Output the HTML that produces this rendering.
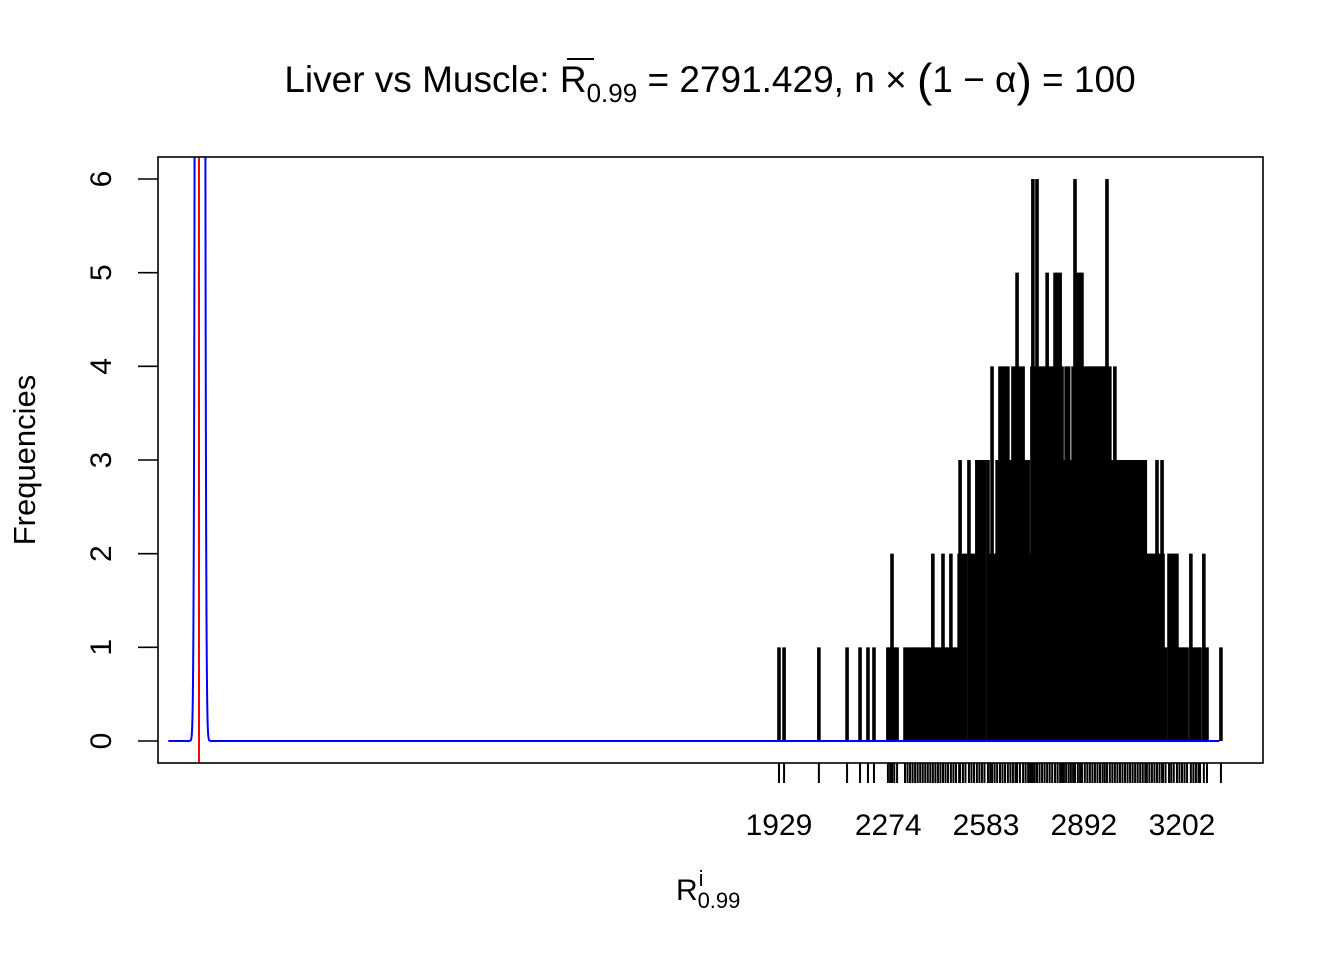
<!DOCTYPE html>
<html><head><meta charset="utf-8"><style>
html,body{margin:0;padding:0;background:#fff;}
svg{display:block;font-family:"Liberation Sans",Arial,sans-serif;}
</style></head><body>
<svg id="chart" width="1344" height="960" viewBox="0 0 1344 960" xmlns="http://www.w3.org/2000/svg">
<defs><clipPath id="plotclip"><rect x="158" y="157" width="1105" height="606"/></clipPath></defs>
<rect x="0" y="0" width="1344" height="960" fill="#fff"/>
<text x="710" y="92" text-anchor="middle" font-size="37" fill="#000">Liver vs Muscle: <tspan>R</tspan><tspan font-size="26" dy="10">0.99</tspan><tspan dy="-10"> = 2791.429, n × </tspan><tspan font-size="46" dy="4">(</tspan><tspan dy="-4">1 − α</tspan><tspan font-size="46" dy="4">)</tspan><tspan dy="-4"> = 100</tspan></text>
<line x1="567" y1="59" x2="594" y2="59" stroke="#000" stroke-width="2"/>
<g id="marks" clip-path="url(#plotclip)"></g>
<g id="rug"></g>
<g id="yaxis"></g>
<g id="xlabels"></g>
<rect x="158" y="157" width="1105" height="606" fill="none" stroke="#000" stroke-width="1.6"/>
<text transform="translate(35,460) rotate(-90)" text-anchor="middle" font-size="31" fill="#000">Frequencies</text>
<text x="676" y="900" font-size="30" fill="#000">R<tspan font-size="22" dx="1" dy="-14">i</tspan><tspan font-size="22" dx="-6" dy="22">0.99</tspan></text>
</svg>
<script>
const values = [1929,1945,2055,2144,2185,2210,2229,2273,2280,2286,2293,2302,
2327,2335,2343,2351,2359,2367,2375,2383,2391,2399,2407,2415,2423,2431,2439,2447,2455,2463,2472,2480,2488,
2498,2501,2510,2518,2529,2537,2545,2554,2562,2570,2578,2589,2596,2602,2610,2618,2627,2635,2643,2652,2660,2668,2676,2681,2690,2700,2708,2716,2722,
2728,2731,2737,2744,2752,2760,2768,2776,2784,2792,2801,2809,2817,2823,2829,2836,2844,2851,2858,2864,2873,2880,2886,2895,2903,2911,2919,2927,2935,2943,2951,2958,2965,2974,2982,2990,2998,
3006,3014,3022,3030,3038,3046,3054,3062,3070,3078,3086,3091,3099,3107,3115,3123,3131,3139,3142,3150,3161,3168,3176,3186,3194,3202,3210,3218,3230,3238,3246,3254,3259,3271,3281,3325];
const counts = [1,1,1,1,1,1,1,1,1,2,1,1,
1,1,1,1,1,1,1,1,1,1,1,2,1,1,1,2,1,1,2,1,1,
2,3,2,2,3,2,2,3,3,3,3,3,2,4,2,3,4,4,4,4,3,4,4,5,4,4,3,3,2,
4,6,4,6,4,4,4,5,4,4,5,5,5,4,3,4,4,3,4,6,5,5,5,4,4,4,4,4,4,4,4,4,6,4,3,4,3,
3,3,3,3,3,3,3,3,3,3,3,2,2,2,2,3,2,3,2,1,2,2,2,2,1,1,1,1,2,1,1,1,1,2,1,1];
const yTicks = [0,1,2,3,4,5,6];
const xLabels = [1929,2274,2583,2892,3202];
const refValue = 100;

const NS = "http://www.w3.org/2000/svg";
function xS(v){ return 779 + (v - 1929) * (1182 - 779) / (3202 - 1929); }
function yS(c){ return 741 - c * (741 - 179) / 6; }
function mk(tag, attrs, parent){ const e=document.createElementNS(NS,tag); for(const k in attrs) e.setAttribute(k,attrs[k]); parent.appendChild(e); return e; }

const marks=document.getElementById('marks'), rug=document.getElementById('rug'), yax=document.getElementById('yaxis'), xl=document.getElementById('xlabels');

values.forEach((v,i)=>{
  const l=mk('line',{x1:xS(v),x2:xS(v),y1:yS(0),y2:yS(counts[i]),stroke:'#000','stroke-width':3.6},marks);
  
  
  const r=mk('line',{x1:xS(v),x2:xS(v),y1:763,y2:783,stroke:'#000','stroke-width':2},rug);
  
  
});

let d='';
const vmax = values[values.length-1];
for(let v=0; v<=vmax; v+= (Math.abs(v-refValue)<80?0.5:10)){
  const y = 200*Math.exp(-0.5*Math.pow((v-refValue)/6.5,2));
  d += (d?'L':'M') + xS(v).toFixed(2) + ',' + yS(y).toFixed(2);
}
const curve=mk('path',{d:d,fill:'none',stroke:'#0000ff','stroke-width':2},marks);



const red=mk('line',{x1:xS(refValue)-1,x2:xS(refValue)-1,y1:157,y2:763,stroke:'#ff0000','stroke-width':2},marks);



yTicks.forEach(t=>{
  const tk=mk('line',{x1:138,x2:158,y1:yS(t),y2:yS(t),stroke:'#000','stroke-width':1.6},yax);
  
  
  const tx=mk('text',{transform:`translate(111,${yS(t)}) rotate(-90)`,'text-anchor':'middle','font-size':30,fill:'#000'},yax);
  tx.textContent=String(t);
  
  
});

xLabels.forEach(v=>{
  const tx=mk('text',{x:xS(v),y:835,'text-anchor':'middle','font-size':30,fill:'#000'},xl);
  tx.textContent=String(v);
  
  
});
</script>
</body></html>
